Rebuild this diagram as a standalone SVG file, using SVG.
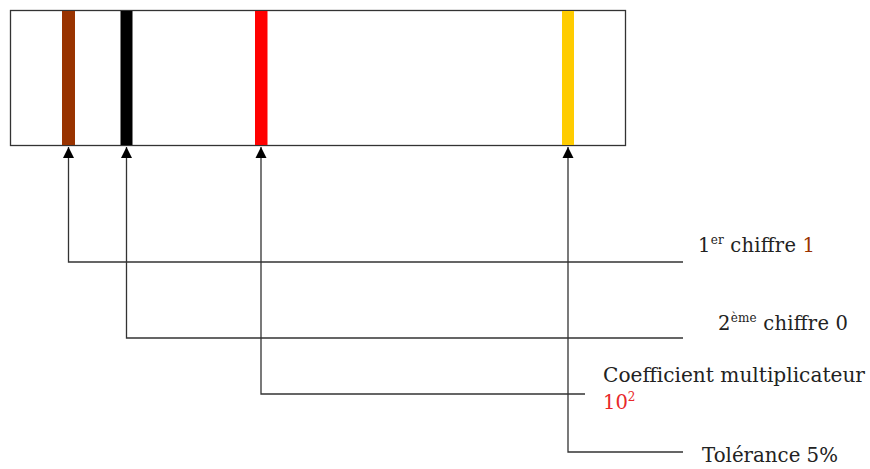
<svg xmlns="http://www.w3.org/2000/svg" width="870" height="469" viewBox="0 0 870 469">
<style>
.lbl{font-family:"DejaVu Serif","Liberation Serif",serif;font-size:19.5px;fill:#222}
.sup{font-size:12px}
.con{fill:none;stroke:#333;stroke-width:1.3}
</style>
<defs>
<marker id="ah" markerUnits="userSpaceOnUse" markerWidth="12" markerHeight="12" viewBox="0 0 12 12" refX="11" refY="6" orient="auto">
<path d="M0,0.5 L11,6 L0,11.5 z" fill="#000"/>
</marker>
</defs>
<rect width="870" height="469" fill="#fff"/>
<g id="resistor">
<rect x="10.5" y="10.5" width="615" height="135" fill="#fff" stroke="#333" stroke-width="1.3"/>
<rect x="62" y="11" width="13" height="134" fill="#993300"/>
<rect x="120.5" y="11" width="12" height="134" fill="#000"/>
<rect x="255" y="11" width="12.5" height="134" fill="#ff0000"/>
<rect x="562" y="11" width="12" height="134" fill="#ffcc00"/>
</g>
<g id="connectors">
<path class="con" d="M683 262 H68.5 V147" marker-end="url(#ah)"/>
<path class="con" d="M683 338 H126.5 V147" marker-end="url(#ah)"/>
<path class="con" d="M585 394 H261 V147" marker-end="url(#ah)"/>
<path class="con" d="M683 452 H568 V147" marker-end="url(#ah)"/>
</g>
<g id="label1">
<text class="lbl" x="698" y="252" textLength="117" lengthAdjust="spacing">1<tspan class="sup" dy="-8">er</tspan><tspan dy="8"> chiffre </tspan><tspan fill="#993300">1</tspan></text>
</g>
<g id="label2">
<text class="lbl" x="718" y="330" textLength="130" lengthAdjust="spacing">2<tspan class="sup" dy="-8">ème</tspan><tspan dy="8"> chiffre 0</tspan></text>
</g>
<g id="label3">
<text class="lbl" x="603" y="382" textLength="262" lengthAdjust="spacingAndGlyphs">Coefficient multiplicateur</text>
<text class="lbl" x="603" y="409" style="fill:#e8282a">10<tspan class="sup" dy="-8">2</tspan></text>
</g>
<g id="label4">
<text class="lbl" x="702" y="462" textLength="136" lengthAdjust="spacingAndGlyphs">Tolérance 5%</text>
</g>
</svg>
